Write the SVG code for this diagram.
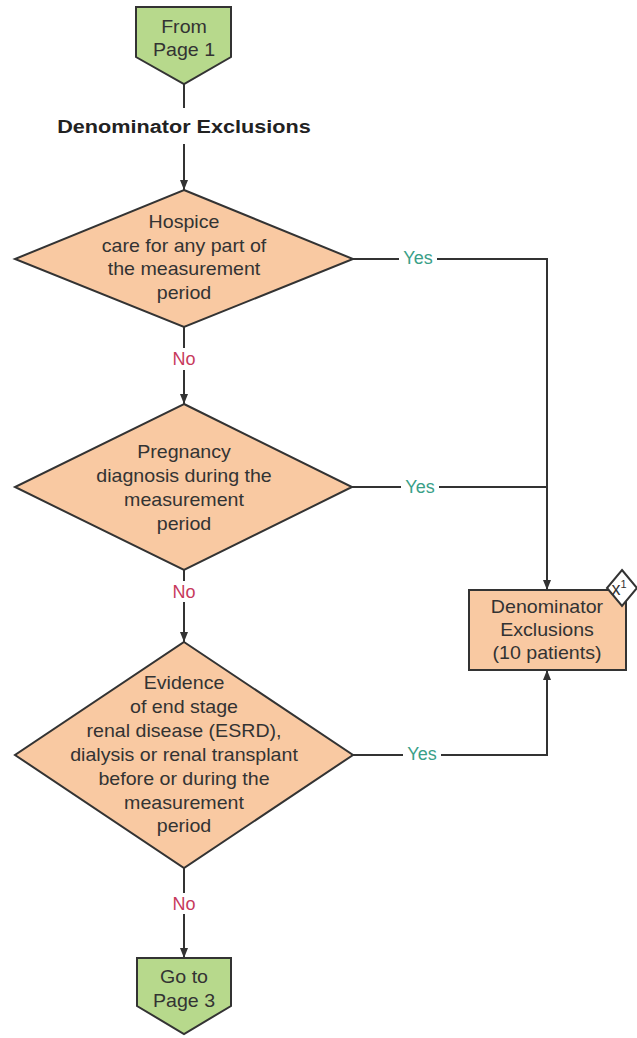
<svg xmlns="http://www.w3.org/2000/svg" width="637" height="1038" viewBox="0 0 637 1038">
<defs>
<style>
.t{font-family:"Liberation Sans",Arial,sans-serif;font-size:18px;fill:#333;text-anchor:middle;dominant-baseline:central}
.b{font-family:"Liberation Sans",Arial,sans-serif;font-size:18.5px;font-weight:bold;fill:#222;text-anchor:middle;dominant-baseline:central}
.yes{font-family:"Liberation Sans",Arial,sans-serif;font-size:18px;fill:#3a9f88;text-anchor:middle;dominant-baseline:central}
.no{font-family:"Liberation Sans",Arial,sans-serif;font-size:18px;fill:#c73a5c;text-anchor:middle;dominant-baseline:central}
.dia{fill:#f9c9a2;stroke:#333;stroke-width:2}
.pg{fill:#b7d98c;stroke:#333;stroke-width:2}
.ln{fill:none;stroke:#333;stroke-width:2}
</style>
<marker id="ah" viewBox="0 0 10 10" refX="10" refY="5" markerWidth="10" markerHeight="10" markerUnits="userSpaceOnUse" orient="auto">
<path d="M0,1 L10,5 L0,9 Z" fill="#333"/>
</marker>
</defs>
<rect width="637" height="1038" fill="#fff"/>

<g id="connectors">
<line class="ln" x1="184" y1="84" x2="184" y2="108"/>
<line class="ln" x1="184" y1="144" x2="184" y2="190" marker-end="url(#ah)"/>
<line class="ln" x1="184" y1="327" x2="184" y2="348"/>
<line class="ln" x1="184" y1="370" x2="184" y2="404" marker-end="url(#ah)"/>
<line class="ln" x1="184" y1="570" x2="184" y2="581"/>
<line class="ln" x1="184" y1="602" x2="184" y2="642" marker-end="url(#ah)"/>
<line class="ln" x1="184" y1="868" x2="184" y2="893"/>
<line class="ln" x1="184" y1="914" x2="184" y2="958" marker-end="url(#ah)"/>
<polyline class="ln" points="353,259 547,259 547,590" marker-end="url(#ah)"/>
<line class="ln" x1="352" y1="487" x2="547" y2="487"/>
<polyline class="ln" points="353,755 547,755 547,670" marker-end="url(#ah)"/>
<rect x="399" y="249" width="38" height="20" fill="#fff"/>
<text class="yes" x="418" y="258">Yes</text>
<rect x="401" y="477" width="38" height="20" fill="#fff"/>
<text class="yes" x="420" y="487">Yes</text>
<rect x="403" y="745" width="38" height="20" fill="#fff"/>
<text class="yes" x="422" y="754">Yes</text>
<text class="no" x="184" y="359">No</text>
<text class="no" x="184" y="592">No</text>
<text class="no" x="184" y="904">No</text>
</g>

<g id="from-page1">
<polygon class="pg" points="136,7 231,7 231,57 184,84 136,57"/>
<g transform="translate(184,0) scale(1.09,1)">
<text class="t" x="0" y="27">From</text>
<text class="t" x="0" y="50">Page 1</text>
</g>
</g>

<g id="title">
<g transform="translate(184,0) scale(1.17,1)">
<text class="b" x="0" y="127">Denominator Exclusions</text>
</g>
</g>

<g id="hospice">
<polygon class="dia" points="184,190 353,259 184,327 15,259"/>
<g transform="translate(184,0) scale(1.09,1)">
<text class="t" x="0" y="222">Hospice</text>
<text class="t" x="0" y="246">care for any part of</text>
<text class="t" x="0" y="269">the measurement</text>
<text class="t" x="0" y="293">period</text>
</g>
</g>

<g id="pregnancy">
<polygon class="dia" points="184,404 352,487 184,570 15,487"/>
<g transform="translate(184,0) scale(1.09,1)">
<text class="t" x="0" y="452">Pregnancy</text>
<text class="t" x="0" y="476">diagnosis during the</text>
<text class="t" x="0" y="500">measurement</text>
<text class="t" x="0" y="524">period</text>
</g>
</g>

<g id="esrd">
<polygon class="dia" points="184,642 353,755 184,868 15,755"/>
<g transform="translate(184,0) scale(1.09,1)">
<text class="t" x="0" y="683">Evidence</text>
<text class="t" x="0" y="707">of end stage</text>
<text class="t" x="0" y="731">renal disease (ESRD),</text>
<text class="t" x="0" y="755">dialysis or renal transplant</text>
<text class="t" x="0" y="779">before or during the</text>
<text class="t" x="0" y="803">measurement</text>
<text class="t" x="0" y="826">period</text>
</g>
</g>

<g id="denominator-exclusions">
<rect class="dia" x="469" y="590" width="157" height="80"/>
<g transform="translate(547,0) scale(1.09,1)">
<text class="t" x="0" y="607">Denominator</text>
<text class="t" x="0" y="630">Exclusions</text>
<text class="t" x="0" y="653">(10 patients)</text>
</g>
<polygon points="622,570 637,588 622,606 607,588" fill="#fff" stroke="#333" stroke-width="2"/>
<text x="619" y="595" font-family="Liberation Sans,Arial,sans-serif" font-size="18" fill="#333" text-anchor="middle">x<tspan font-size="11" dy="-7">1</tspan></text>
</g>

<g id="to-page3">
<polygon class="pg" points="137,958 231,958 231,1006 184,1034 137,1006"/>
<g transform="translate(184,0) scale(1.09,1)">
<text class="t" x="0" y="977">Go to</text>
<text class="t" x="0" y="1001">Page 3</text>
</g>
</g>
</svg>
